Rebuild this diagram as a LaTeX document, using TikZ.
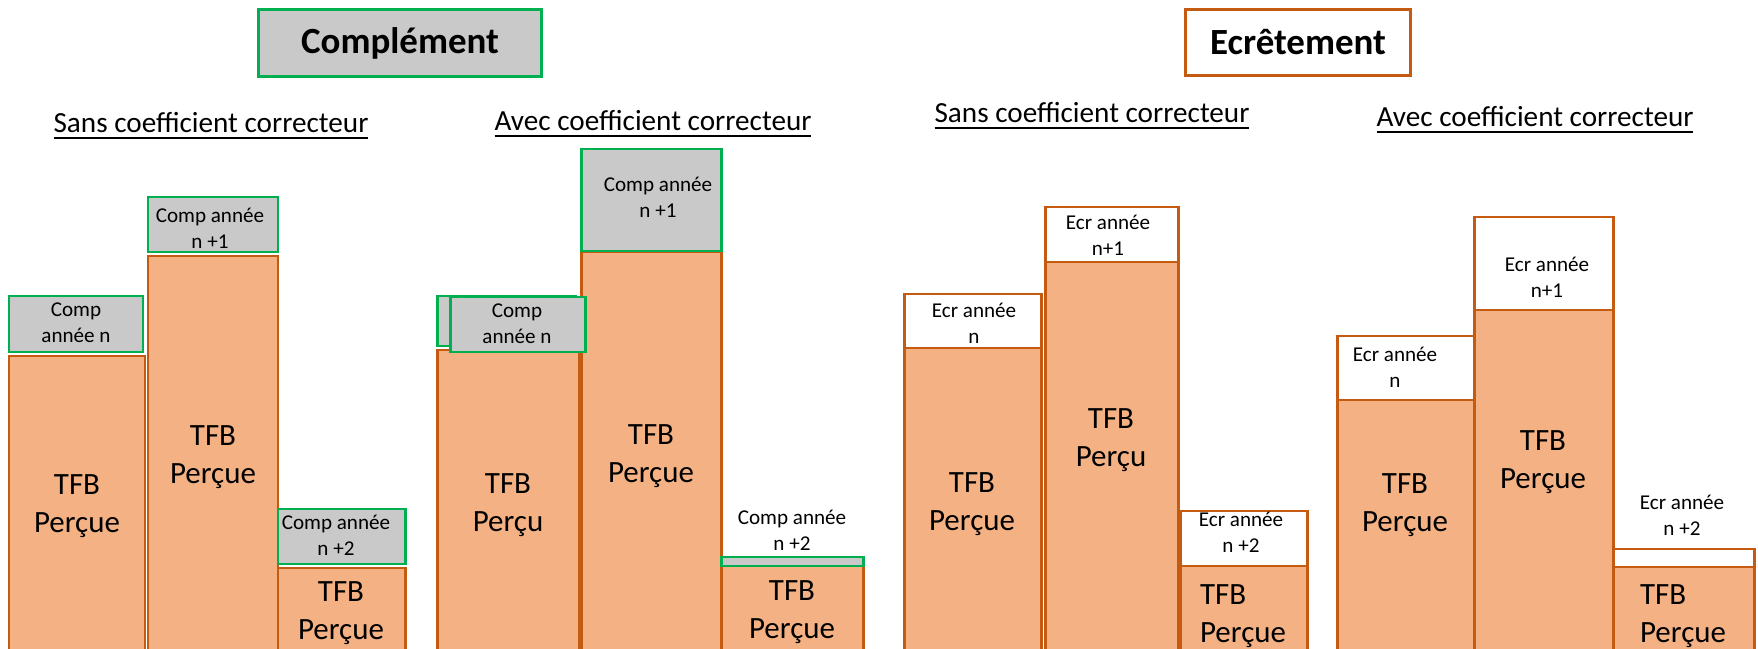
\documentclass[tikz,border=0pt]{standalone}
\usepackage{fontspec}
\setmainfont{Carlito}
\definecolor{barfill}{HTML}{F4B183}
\definecolor{barline}{HTML}{C55A11}
\definecolor{compfill}{HTML}{C9C9C9}
\definecolor{compline}{HTML}{00B050}
\tikzset{
    bar/.style={draw=barline, fill=barfill, line width=0.85pt},
    compbox/.style={draw=compline, fill=compfill, line width=0.85pt},
    ecrbox/.style={draw=barline, fill=white, line width=0.85pt},
    tfb/.style={font=\fontsize{8.8}{10.7}\selectfont, align=center},
    lbl/.style={font=\fontsize{6}{7.3}\selectfont, align=center},
    subtitle/.style={font=\fontsize{8.3}{10}\selectfont, anchor=base, inner sep=0pt},
    titlebox/.style={font=\fontsize{10.5}{12}\selectfont\bfseries, line width=0.85pt,
        minimum height=0.66cm}
}
\begin{document}
\begin{tikzpicture}[x=0.01cm, y=-0.01cm]
    \useasboundingbox (0,0) rectangle (1758,649);
    % titres
    \node [titlebox, draw=compline, fill=compfill, minimum width=2.82cm] (complement) at (400,43) {Complément};
    \node [titlebox, draw=barline, fill=white, minimum width=2.25cm] (ecretement) at (1298,42.5) {Ecrêtement};
    \node [subtitle] (sansA) at (211,133) {\underline{Sans coefficient correcteur}};
    \node [subtitle] (avecA) at (653,131) {\underline{Avec coefficient correcteur}};
    \node [subtitle] (sansB) at (1092,123) {\underline{Sans coefficient correcteur}};
    \node [subtitle] (avecB) at (1535,127) {\underline{Avec coefficient correcteur}};
    % Complément, sans coefficient
    \filldraw [bar] (9,356) rectangle (145,650);
    \filldraw [bar] (148,256) rectangle (278,650);
    \filldraw [bar] (278,568) rectangle (405,650);
    \filldraw [compbox] (9,296) rectangle (143,352);
    \filldraw [compbox] (148,197) rectangle (278,252);
    \filldraw [compbox] (278,509) rectangle (405,564);
    \node [tfb] (tfbAa) at (77,506) {TFB\\Perçue};
    \node [tfb] (tfbAb) at (213,457) {TFB\\Perçue};
    \node [tfb] (tfbAc) at (341,613) {TFB\\Perçue};
    \node [lbl] (compAa) at (76,323) {Comp\\année n};
    \node [lbl] (compAb) at (210,228) {Comp année\\n +1};
    \node [lbl] (compAc) at (336,535) {Comp année\\n +2};
    % Complément, avec coefficient
    \filldraw [bar] (437,350) rectangle (579,650);
    \filldraw [bar] (581,252) rectangle (721,650);
    \filldraw [bar] (721,566) rectangle (863,650);
    \filldraw [compbox] (437,296) rectangle (575,346);
    \filldraw [compbox] (450,297) rectangle (585,352);
    \filldraw [compbox] (581,149) rectangle (721,251);
    \filldraw [compbox] (721,557) rectangle (863,566);
    \node [tfb] (tfbBa) at (508,505) {TFB\\Perçu};
    \node [tfb] (tfbBb) at (651,456) {TFB\\Perçue};
    \node [tfb] (tfbBc) at (792,612) {TFB\\Perçue};
    \node [lbl] (compBa) at (517,324) {Comp\\année n};
    \node [lbl] (compBb) at (658,197) {Comp année\\n +1};
    \node [lbl] (compBc) at (792,530) {Comp année\\n +2};
    % Ecrêtement, sans coefficient
    \filldraw [bar] (904,348) rectangle (1041,650);
    \filldraw [bar] (1045,262) rectangle (1178,650);
    \filldraw [bar] (1180,566) rectangle (1307,650);
    \filldraw [ecrbox] (904,294) rectangle (1041,348);
    \filldraw [ecrbox] (1045,207) rectangle (1178,262);
    \filldraw [ecrbox] (1180,511) rectangle (1307,566);
    \node [tfb] (tfbCa) at (972,504) {TFB\\Perçue};
    \node [tfb] (tfbCb) at (1111,440) {TFB\\Perçu};
    \node [tfb, align=left] (tfbCc) at (1243,616) {TFB\\Perçue};
    \node [lbl] (ecrCa) at (974,323) {Ecr année\\n};
    \node [lbl] (ecrCb) at (1108,235) {Ecr année\\n+1};
    \node [lbl] (ecrCc) at (1241,532) {Ecr année\\n +2};
    % Ecrêtement, avec coefficient
    \filldraw [bar] (1337,400) rectangle (1474,650);
    \filldraw [bar] (1474,310) rectangle (1613,650);
    \filldraw [bar] (1613,567) rectangle (1754,650);
    \filldraw [ecrbox] (1337,336) rectangle (1474,400);
    \filldraw [ecrbox] (1474,217) rectangle (1613,310);
    \filldraw [ecrbox] (1613,549) rectangle (1754,567);
    \node [tfb] (tfbDa) at (1405,505) {TFB\\Perçue};
    \node [tfb] (tfbDb) at (1543,462) {TFB\\Perçue};
    \node [tfb, align=left] (tfbDc) at (1683,616) {TFB\\Perçue};
    \node [lbl] (ecrDa) at (1395,367) {Ecr année\\n};
    \node [lbl] (ecrDb) at (1547,277) {Ecr année\\n+1};
    \node [lbl] (ecrDc) at (1682,515) {Ecr année\\n +2};
\end{tikzpicture}
\end{document}
